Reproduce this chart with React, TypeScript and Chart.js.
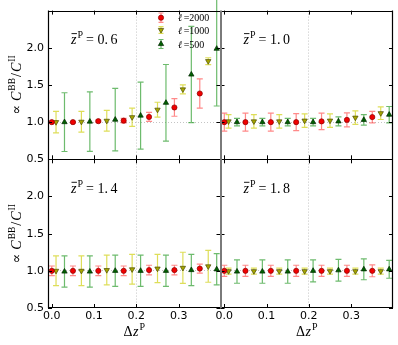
import React, { useEffect, useRef } from 'react';
import { Chart, registerables } from 'chart.js';

Chart.register(...registerables);

// ---------- data ----------
const X_TICKS = [0.0, 0.1, 0.2, 0.3];
const Y_TICKS = [0.5, 1.0, 1.5, 2.0];
const X_MIN = -0.009;
const X_MAX = 0.399;
const Y_MIN = 0.5;
const Y_MAX = 2.5;

const PANEL_LABELS = ['0.6', '1.0', '1.4', '1.8'];
const LEGEND_LABELS = ['2000', '1000', '500'];

const X_RED = [0.0, 0.05, 0.11, 0.17, 0.23, 0.29, 0.35];
const X_YEL = [0.01, 0.07, 0.13, 0.19, 0.25, 0.31, 0.37];
const X_GRN = [0.03, 0.09, 0.15, 0.21, 0.27, 0.33, 0.39];

// z = 0.6
const RED_06 = [1.0, 1.0, 1.013, 1.02, 1.07, 1.197, 1.385];
const RED_06_ERR = [0.01, 0.01, 0.015, 0.03, 0.06, 0.118, 0.197];
const YEL_06 = [1.0, 1.005, 1.018, 1.066, 1.167, 1.44, 1.82];
const YEL_06_ERR = [0.145, 0.14, 0.14, 0.123, 0.1, 0.06, 0.046];
const GRN_06 = [1.0, 1.007, 1.033, 1.088, 1.26, 1.64, 1.987];
const GRN_06_ERR = [0.395, 0.4, 0.42, 0.45, 0.515, 0.647, 0.77];

// z = 1.0
const RED_10 = [1.0, 1.0, 1.0, 1.0, 1.01, 1.03, 1.068];
const RED_10_ERR = [0.12, 0.12, 0.12, 0.115, 0.11, 0.094, 0.077];
const YEL_10 = [1.01, 1.01, 1.01, 1.02, 1.02, 1.06, 1.12];
const YEL_10_ERR = [0.09, 0.09, 0.09, 0.09, 0.09, 0.09, 0.085];
const GRN_10 = [1.0, 1.0, 1.0, 1.0, 1.01, 1.03, 1.1];
const GRN_10_ERR = [0.05, 0.05, 0.05, 0.05, 0.06, 0.07, 0.11];

// z = 1.4
const RED_14 = [1.0, 1.0, 1.0, 1.0, 1.01, 1.01, 1.03];
const RED_14_ERR = [0.065, 0.065, 0.065, 0.065, 0.065, 0.065, 0.06];
const YEL_14 = [1.0, 1.0, 1.01, 1.02, 1.03, 1.04, 1.06];
const YEL_14_ERR = [0.2, 0.2, 0.2, 0.2, 0.19, 0.21, 0.214];
const GRN_14 = [0.99, 0.99, 1.0, 1.0, 1.0, 1.01, 1.02];
const GRN_14_ERR = [0.21, 0.21, 0.21, 0.21, 0.21, 0.21, 0.21];

// z = 1.8
const RED_18 = [1.0, 1.0, 1.0, 1.0, 1.0, 1.0, 1.0];
const RED_18_ERR = [0.075, 0.075, 0.075, 0.075, 0.075, 0.075, 0.08];
const YEL_18 = [0.995, 0.995, 0.995, 0.995, 0.995, 0.995, 0.995];
const YEL_18_ERR = [0.04, 0.04, 0.04, 0.04, 0.04, 0.04, 0.04];
const GRN_18 = [0.99, 0.99, 0.99, 1.0, 1.007, 1.02, 1.02];
const GRN_18_ERR = [0.157, 0.157, 0.157, 0.148, 0.146, 0.14, 0.12];

// ---------- styles ----------
const SERIF = '"Liberation Serif", "DejaVu Serif", serif';
const SANS = '"DejaVu Sans", sans-serif';

const STYLES = [
  { pointStyle: 'circle', radius: 2.6, rotation: 0, fill: '#f00000', edge: '#8a0000', bar: 'rgba(255,40,40,0.55)' },
  { pointStyle: 'triangle', radius: 3.1, rotation: 180, fill: '#a6a600', edge: '#4a4a00', bar: 'rgba(205,205,0,0.65)' },
  { pointStyle: 'triangle', radius: 3.1, rotation: 0, fill: '#006000', edge: '#002800', bar: 'rgba(30,150,30,0.65)' },
];

type Piece = { t: string; font: string; dx?: number; dy?: number };

function piecesWidth(ctx: CanvasRenderingContext2D, pieces: Piece[]) {
  let w = 0;
  for (const p of pieces) {
    ctx.font = p.font;
    w += (p.dx || 0) + ctx.measureText(p.t).width;
  }
  return w;
}

function drawPieces(ctx: CanvasRenderingContext2D, pieces: Piece[], x: number, y: number) {
  let cx = x;
  const pos: number[] = [];
  for (const p of pieces) {
    cx += p.dx || 0;
    ctx.font = p.font;
    pos.push(cx);
    ctx.fillText(p.t, cx, y + (p.dy || 0));
    cx += ctx.measureText(p.t).width;
  }
  return pos;
}

function drawMarker(ctx: CanvasRenderingContext2D, s: any, x: number, y: number) {
  ctx.save();
  ctx.fillStyle = s.fill;
  ctx.strokeStyle = s.edge;
  ctx.lineWidth = 0.7;
  ctx.beginPath();
  if (s.pointStyle === 'circle') {
    ctx.arc(x, y, s.radius, 0, Math.PI * 2);
  } else {
    const r = s.radius;
    const sgn = s.rotation === 180 ? -1 : 1;
    ctx.moveTo(x, y - sgn * r);
    ctx.lineTo(x + r * 0.866, y + sgn * r * 0.5);
    ctx.lineTo(x - r * 0.866, y + sgn * r * 0.5);
    ctx.closePath();
  }
  ctx.fill();
  ctx.stroke();
  ctx.restore();
}

function drawErrBar(ctx: CanvasRenderingContext2D, color: string, x: number, y1: number, y2: number, cap: number) {
  ctx.save();
  ctx.strokeStyle = color;
  ctx.lineWidth = 1.2;
  ctx.beginPath();
  ctx.moveTo(x, y1);
  ctx.lineTo(x, y2);
  ctx.moveTo(x - cap, y1);
  ctx.lineTo(x + cap, y1);
  ctx.moveTo(x - cap, y2);
  ctx.lineTo(x + cap, y2);
  ctx.stroke();
  ctx.restore();
}

const errorBarPlugin = {
  id: 'errorBars',
  beforeDatasetDraw(chart: any, args: any) {
    const ds = chart.data.datasets[args.index];
    const meta = args.meta;
    const ctx = chart.ctx;
    const xs = meta.xScale;
    const ys = meta.yScale;
    ds.data.forEach((d: any, i: number) => {
      const e = ds.errors[i];
      const px = xs.getPixelForValue(d.x);
      drawErrBar(ctx, ds.barColor, px, ys.getPixelForValue(d.y - e), ys.getPixelForValue(d.y + e), 3);
    });
  },
};

const PANEL_AXES = [
  ['xL', 'yT'],
  ['xR', 'yT'],
  ['xL', 'yB'],
  ['xR', 'yB'],
];

const decorPlugin = {
  id: 'decor',
  afterDatasetsDraw(chart: any) {
    const ctx: CanvasRenderingContext2D = chart.ctx;
    const sc = chart.scales;
    ctx.save();
    // ticks inside each panel
    ctx.strokeStyle = '#000';
    ctx.lineWidth = 1;
    PANEL_AXES.forEach(([xi, yi]) => {
      const xs = sc[xi];
      const ys = sc[yi];
      ctx.beginPath();
      X_TICKS.forEach((v) => {
        const px = Math.round(xs.getPixelForValue(v)) + 0.5;
        ctx.moveTo(px, ys.top);
        ctx.lineTo(px, ys.top + 4);
        ctx.moveTo(px, ys.bottom);
        ctx.lineTo(px, ys.bottom - 4);
      });
      Y_TICKS.forEach((v) => {
        const py = Math.round(ys.getPixelForValue(v)) + 0.5;
        ctx.moveTo(xs.left, py);
        ctx.lineTo(xs.left + 4, py);
        ctx.moveTo(xs.right, py);
        ctx.lineTo(xs.right - 4, py);
      });
      ctx.stroke();
    });
    // frame
    const L = sc.xL.left, M = sc.xL.right, R = sc.xR.right;
    const T = sc.yT.top, H = sc.yT.bottom, B = sc.yB.bottom;
    ctx.strokeStyle = '#000';
    ctx.lineWidth = 1.2;
    ctx.beginPath();
    ctx.moveTo(Math.round(L) + 0.5, T);
    ctx.lineTo(Math.round(L) + 0.5, B);
    ctx.moveTo(Math.round(R) - 0.5, T);
    ctx.lineTo(Math.round(R) - 0.5, B);
    ctx.moveTo(L, Math.round(T) + 0.5);
    ctx.lineTo(R, Math.round(T) + 0.5);
    ctx.moveTo(L, Math.round(B) - 0.5);
    ctx.lineTo(R, Math.round(B) - 0.5);
    ctx.moveTo(L, Math.round(H) + 0.5);
    ctx.lineTo(R, Math.round(H) + 0.5);
    ctx.stroke();
    ctx.strokeStyle = '#7a7a7a';
    ctx.lineWidth = 2;
    ctx.beginPath();
    ctx.moveTo(Math.round(M), T);
    ctx.lineTo(Math.round(M), B);
    ctx.stroke();

    // panel labels
    ctx.fillStyle = '#000';
    ctx.textBaseline = 'alphabetic';
    ctx.textAlign = 'left';
    PANEL_AXES.forEach(([xi, yi], k) => {
      const xs = sc[xi];
      const ys = sc[yi];
      const lab = PANEL_LABELS[k];
      const dot = lab.indexOf('.');
      const pieces: Piece[] = [
        { t: 'z', font: `italic 14px ${SERIF}` },
        { t: 'P', font: `10px ${SERIF}`, dx: 1, dy: -6 },
        { t: '=', font: `14px ${SERIF}`, dx: 3 },
        { t: lab.slice(0, dot + 1), font: `14px ${SERIF}`, dx: 3.5 },
        { t: lab.slice(dot + 1), font: `14px ${SERIF}`, dx: 2.5 },
      ];
      const x0 = xs.left + 23;
      const y0 = ys.top + 33.5;
      const pos = drawPieces(ctx, pieces, x0, y0);
      ctx.font = `italic 14px ${SERIF}`;
      const zw = ctx.measureText('z').width;
      ctx.lineWidth = 0.9;
      ctx.strokeStyle = '#000';
      ctx.beginPath();
      ctx.moveTo(pos[0] + 0.5, y0 - 10.5);
      ctx.lineTo(pos[0] + zw + 0.5, y0 - 10.5);
      ctx.stroke();
    });

    // y titles
    [sc.yT, sc.yB].forEach((ys: any) => {
      const pieces: Piece[] = [
        { t: '∝', font: `14px ${SERIF}` },
        { t: 'C', font: `italic 14px ${SERIF}`, dx: 4 },
        { t: 'BB', font: `9.5px ${SERIF}`, dx: 1, dy: -6 },
        { t: '/', font: `14px ${SERIF}`, dx: 1 },
        { t: 'C', font: `italic 14px ${SERIF}`, dx: 1 },
        { t: 'II', font: `9.5px ${SERIF}`, dx: 1, dy: -6 },
      ];
      const w = piecesWidth(ctx, pieces);
      const cy = (ys.top + ys.bottom) / 2;
      ctx.save();
      ctx.translate(20.5, cy);
      ctx.rotate(-Math.PI / 2);
      drawPieces(ctx, pieces, -w / 2, 0);
      ctx.restore();
    });

    // x titles
    [sc.xL, sc.xR].forEach((xs: any) => {
      const pieces: Piece[] = [
        { t: 'Δ', font: `14px ${SERIF}` },
        { t: 'z', font: `italic 14px ${SERIF}`, dx: 0.5 },
        { t: 'P', font: `10px ${SERIF}`, dx: 1, dy: -6 },
      ];
      const w = piecesWidth(ctx, pieces);
      const cx = (xs.left + xs.right) / 2;
      drawPieces(ctx, pieces, cx - w / 2, 335.5);
    });

    // legend
    const lx = sc.xL.left + 113;
    const rows = [17.7, 30, 44];
    const errs = [4.7, 3.3, 4.5];
    rows.forEach((ry, k) => {
      const s = STYLES[k];
      drawErrBar(ctx, s.bar, lx, ry - errs[k], ry + errs[k], 2.5);
      drawMarker(ctx, s, lx, ry);
      ctx.fillStyle = '#000';
      drawPieces(
        ctx,
        [
          { t: 'ℓ', font: `italic 10px ${SERIF}` },
          { t: '=', font: `10px ${SERIF}`, dx: 1.5 },
          { t: LEGEND_LABELS[k], font: `10px ${SERIF}`, dx: 0 },
        ],
        lx + 17,
        ry + 3.5
      );
    });
    ctx.restore();
  },
};

function makeSeries(xs: number[], ys: number[], errs: number[], k: number, xAxisID: string, yAxisID: string) {
  const s = STYLES[k];
  return {
    data: xs.map((x, i) => ({ x, y: ys[i] })),
    errors: errs,
    barColor: s.bar,
    xAxisID,
    yAxisID,
    pointStyle: s.pointStyle,
    pointRadius: s.radius,
    pointRotation: s.rotation,
    backgroundColor: s.fill,
    borderColor: s.edge,
    pointBorderWidth: 0.7,
    clip: false,
  };
}

const PANEL_SERIES = [
  [[RED_06, RED_06_ERR], [YEL_06, YEL_06_ERR], [GRN_06, GRN_06_ERR]],
  [[RED_10, RED_10_ERR], [YEL_10, YEL_10_ERR], [GRN_10, GRN_10_ERR]],
  [[RED_14, RED_14_ERR], [YEL_14, YEL_14_ERR], [GRN_14, GRN_14_ERR]],
  [[RED_18, RED_18_ERR], [YEL_18, YEL_18_ERR], [GRN_18, GRN_18_ERR]],
];
const SERIES_X = [X_RED, X_YEL, X_GRN];

function xScale(weight: number) {
  return {
    type: 'linear',
    position: 'bottom',
    stack: 'cols',
    stackWeight: 1,
    weight,
    min: X_MIN,
    max: X_MAX,
    afterBuildTicks: (s: any) => {
      s.ticks = X_TICKS.map((v) => ({ value: v }));
    },
    afterFit: (s: any) => {
      s.height = 37;
    },
    grid: {
      drawTicks: false,
      lineWidth: 1,
      color: (c: any) => (c.tick && Math.abs(c.tick.value - 0.2) < 1e-9 ? '#c4c4c4' : 'rgba(0,0,0,0)'),
    },
    border: { display: false, dash: [1, 2] },
    ticks: {
      autoSkip: false,
      maxRotation: 0,
      padding: 2,
      color: '#000',
      font: { family: SANS, size: 11 },
      callback: (v: any) => Number(v).toFixed(1),
    },
  };
}

function yScale(weight: number) {
  return {
    type: 'linear',
    position: 'left',
    stack: 'rows',
    stackWeight: 1,
    weight,
    min: Y_MIN,
    max: Y_MAX,
    afterBuildTicks: (s: any) => {
      s.ticks = Y_TICKS.map((v) => ({ value: v }));
    },
    afterFit: (s: any) => {
      s.width = 48;
    },
    grid: {
      drawTicks: false,
      lineWidth: 1,
      color: (c: any) => (c.tick && Math.abs(c.tick.value - 1.0) < 1e-9 ? '#c4c4c4' : 'rgba(0,0,0,0)'),
    },
    border: { display: false, dash: [1, 2] },
    ticks: {
      autoSkip: false,
      padding: 4,
      color: '#000',
      font: { family: SANS, size: 11 },
      callback: (v: any) => Number(v).toFixed(1),
    },
  };
}

export default function App() {
  const ref = useRef<HTMLCanvasElement>(null);
  useEffect(() => {
    if (!ref.current) return;
    const datasets: any[] = [];
    PANEL_SERIES.forEach((panel, p) => {
      const [xi, yi] = PANEL_AXES[p];
      panel.forEach(([vals, errs], k) => {
        datasets.push(makeSeries(SERIES_X[k], vals, errs, k, xi, yi));
      });
    });
    const chart = new Chart(ref.current, {
      type: 'scatter',
      data: { datasets },
      options: {
        animation: false,
        responsive: false,
        maintainAspectRatio: false,
        events: [],
        layout: { padding: { left: 0, right: 5, top: 5, bottom: 0 } },
        plugins: { legend: { display: false }, tooltip: { enabled: false } },
        scales: {
          xL: xScale(0),
          xR: xScale(1),
          yB: yScale(0),
          yT: yScale(1),
        } as any,
      },
      plugins: [errorBarPlugin, decorPlugin],
    } as any);
    return () => chart.destroy();
  }, []);
  return (
    <div style={{ position: 'absolute', left: 0, top: 0, width: 398, height: 345, background: '#fff' }}>
      <canvas ref={ref} width={398} height={345} style={{ display: 'block', width: 398, height: 345 }} />
    </div>
  );
}
